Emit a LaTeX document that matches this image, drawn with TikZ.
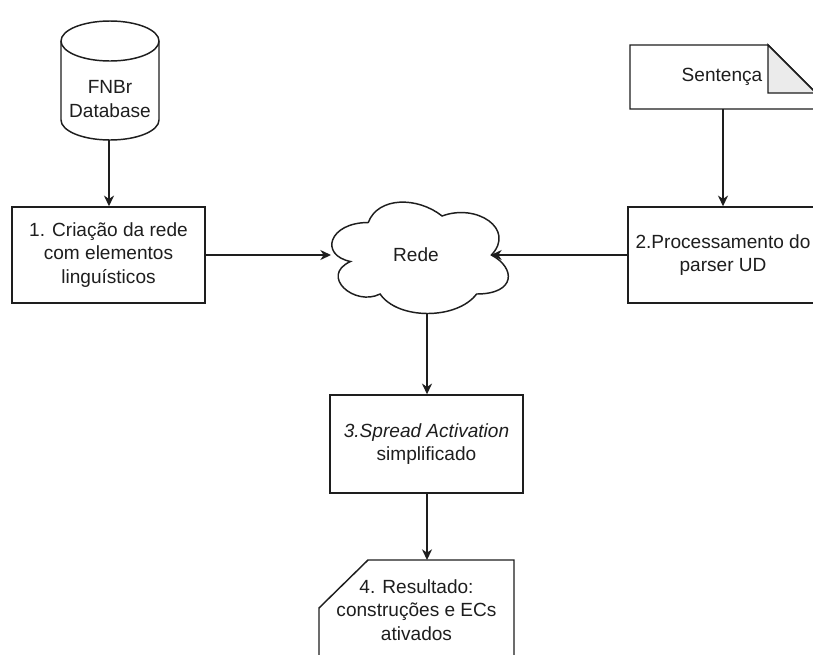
\documentclass[tikz,border=0pt]{standalone}
\usepackage{fontspec}
\setmainfont{Liberation Sans}
\usetikzlibrary{arrows.meta}
\definecolor{ink}{RGB}{30,30,30}
\definecolor{foldgray}{RGB}{235,235,235}
\begin{document}
\begin{tikzpicture}[x=0.75pt,y=0.75pt,
  line width=1.1pt,
  every node/.style={font=\fontsize{14.3pt}{17.6pt}\selectfont, text=ink, align=center, inner sep=0pt},
  shapeline/.style={draw=ink, line width=1.1pt},
  stepbox/.style={shapeline, rectangle, minimum width=145pt, minimum height=72pt},
  flow/.style={draw=ink, line width=1.1pt, -{Stealth[length=8pt,width=7.5pt,inset=2.5pt]}}
]
\useasboundingbox (0,0) rectangle (813,-654);
\fill[white] (0,0) rectangle (813,-654);
\clip (0,0) rectangle (813,-654);

% database cylinder
\draw[shapeline, fill=white] (61,-41) -- (61,-120)
  arc[start angle=180, end angle=360, x radius=36.75pt, y radius=15pt]
  -- (159,-41)
  arc[start angle=0, end angle=180, x radius=36.75pt, y radius=15pt] -- cycle;
\draw[shapeline] (61,-41) arc[start angle=180, end angle=360, x radius=36.75pt, y radius=15pt];
\node (db) at (110,-99) {FNBr\\Database};
\coordinate (dbB) at (109,-140);

% step 1
\node[stepbox] (s1) at (108.5,-255) {1. Criação da rede\\com elementos\\linguísticos};

% sentence document
\draw[shapeline, fill=white] (630,-45) -- (768,-45) -- (816,-93) -- (816,-109) -- (630,-109) -- cycle;
\draw[shapeline, fill=foldgray, line join=miter] (768,-45) -- (768,-93) -- (816,-93) -- cycle;
\node (sent) at (722,-77) {Sentença};
\coordinate (sentB) at (723,-109);

% step 2
\node[stepbox, minimum width=142.5pt] (s2) at (723,-255) {2.Processamento do\\parser UD};

% network cloud
\draw[shapeline, fill=white] (368.25,-222.5)
  .. controls (328.85,-222.5) and (319,-255) .. (350.5,-261.5)
  .. controls (319,-275.8) and (354.5,-307) .. (380.1,-294)
  .. controls (397.8,-320) and (456.9,-320) .. (476.6,-294)
  .. controls (516,-294) and (516,-268) .. (491.4,-255)
  .. controls (516,-229) and (476.6,-203) .. (442.1,-216)
  .. controls (417.5,-196.5) and (378.1,-196.5) .. (368.25,-222.5) -- cycle;
\node (rede) at (416,-255) {Rede};
\coordinate (redeW) at (331,-255);
\coordinate (redeE) at (491,-255);
\coordinate (redeS) at (427,-313);

% step 3
\node[stepbox, minimum height=73.5pt] (s3) at (426.5,-444) {\itshape 3.Spread Activation\\simplificado};

% step 4 (card)
\draw[shapeline, fill=white] (368,-560) -- (514,-560) -- (514,-660) -- (319,-660) -- (319,-608) -- cycle;
\node (s4) at (416.5,-610) {4. Resultado:\\construções e ECs\\ativados};
\coordinate (s4N) at (427,-560);

% connectors
\draw[flow] (dbB) -- (s1.north -| dbB);
\draw[flow] (s1.east |- redeW) -- (redeW);
\draw[flow] (sentB) -- (s2.north -| sentB);
\draw[flow] (s2.west |- redeE) -- (redeE);
\draw[flow] (redeS) -- (s3.north -| redeS);
\draw[flow] (s3.south -| s4N) -- (s4N);
\end{tikzpicture}
\end{document}
